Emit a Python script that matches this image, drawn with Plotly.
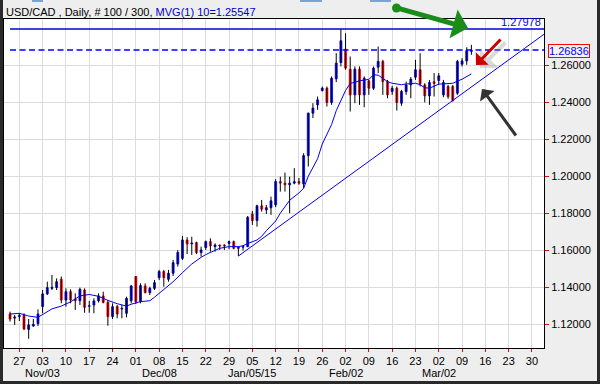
import plotly.graph_objects as go
import pandas as pd

# ---------------- data ----------------
dates = pd.bdate_range("2014-10-23", "2015-03-11")  # 100 daily bars

open_ = [1.1254, 1.1232, 1.1240, 1.1247, 1.1171, 1.1189, 1.1202, 1.1294, 1.1363, 1.1393,
         1.1397, 1.1442, 1.1330, 1.1375, 1.1335, 1.1326, 1.1384, 1.1296, 1.1303, 1.1326,
         1.1352, 1.1317, 1.1240, 1.1294, 1.1281, 1.1258, 1.1326, 1.1457, 1.1321, 1.1406,
         1.1370, 1.1393, 1.1451, 1.1484, 1.1442, 1.1475, 1.1525, 1.1556, 1.1655, 1.1634,
         1.1641, 1.1587, 1.1614, 1.1646, 1.1619, 1.1628, 1.1628, 1.1637, 1.1646, 1.1610,
         1.1616, 1.1619, 1.1796, 1.1760, 1.1840, 1.1818, 1.1830, 1.1845, 1.1971, 1.1963,
         1.1954, 1.1963, 1.1971, 1.1959, 1.2112, 1.2342, 1.2387, 1.2465, 1.2477, 1.2400,
         1.2528, 1.2616, 1.2689, 1.2580, 1.2441, 1.2580, 1.2441, 1.2517, 1.2477, 1.2591,
         1.2622, 1.2513, 1.2459, 1.2477, 1.2396, 1.2459, 1.2495, 1.2537, 1.2577, 1.2495,
         1.2436, 1.2512, 1.2519, 1.2441, 1.2486, 1.2486, 1.2450, 1.2607, 1.2625, 1.2677]
high = [1.1267, 1.1249, 1.1258, 1.1258, 1.1227, 1.1227, 1.1279, 1.1384, 1.1429, 1.1466,
        1.1447, 1.1457, 1.1393, 1.1388, 1.1366, 1.1397, 1.1393, 1.1325, 1.1339, 1.1366,
        1.1375, 1.1330, 1.1312, 1.1303, 1.1303, 1.1348, 1.1411, 1.1460, 1.1420, 1.1420,
        1.1402, 1.1438, 1.1493, 1.1493, 1.1493, 1.1547, 1.1601, 1.1677, 1.1670, 1.1673,
        1.1646, 1.1619, 1.1652, 1.1664, 1.1637, 1.1630, 1.1631, 1.1652, 1.1652, 1.1619,
        1.1623, 1.1785, 1.1812, 1.1846, 1.1872, 1.1845, 1.1890, 1.1984, 1.1998, 1.2020,
        1.1998, 1.2044, 1.1990, 1.2125, 1.2345, 1.2396, 1.2432, 1.2486, 1.2486, 1.2541,
        1.2667, 1.27978, 1.2775, 1.2649, 1.2595, 1.2595, 1.2541, 1.2522, 1.2595, 1.2703,
        1.2631, 1.2522, 1.2490, 1.2486, 1.2468, 1.2513, 1.2537, 1.2631, 1.2667, 1.2504,
        1.2522, 1.2559, 1.2559, 1.2522, 1.2495, 1.2495, 1.2631, 1.2640, 1.2699, 1.2712]
low = [1.1213, 1.1195, 1.1216, 1.1167, 1.1120, 1.1185, 1.1189, 1.1258, 1.1357, 1.1384,
       1.1384, 1.1312, 1.1294, 1.1312, 1.1276, 1.1303, 1.1261, 1.1261, 1.1258, 1.1316,
       1.1312, 1.1191, 1.1227, 1.1231, 1.1231, 1.1236, 1.1312, 1.1308, 1.1312, 1.1366,
       1.1357, 1.1384, 1.1438, 1.1402, 1.1429, 1.1460, 1.1511, 1.1547, 1.1579, 1.1574,
       1.1579, 1.1565, 1.1601, 1.1592, 1.1592, 1.1601, 1.1601, 1.1605, 1.1605, 1.1568,
       1.1598, 1.1616, 1.1737, 1.1727, 1.1809, 1.1796, 1.1791, 1.1833, 1.1917, 1.1917,
       1.1800, 1.1957, 1.1954, 1.1935, 1.2053, 1.2315, 1.2360, 1.2459, 1.2378, 1.2387,
       1.2510, 1.2595, 1.2577, 1.2351, 1.2396, 1.2387, 1.2374, 1.2441, 1.2468, 1.2559,
       1.2441, 1.2423, 1.2441, 1.2356, 1.2382, 1.2441, 1.2423, 1.2522, 1.2486, 1.2400,
       1.2387, 1.2432, 1.2495, 1.2428, 1.2420, 1.2405, 1.2441, 1.2595, 1.2604, 1.2658]
close = [1.1227, 1.1238, 1.1247, 1.1173, 1.1195, 1.1198, 1.1254, 1.1363, 1.1397, 1.1399,
         1.1429, 1.1330, 1.1375, 1.1330, 1.1326, 1.1388, 1.1290, 1.1299, 1.1325, 1.1352,
         1.1317, 1.1240, 1.1294, 1.1254, 1.1285, 1.1339, 1.1406, 1.1321, 1.1408, 1.1370,
         1.1393, 1.1424, 1.1484, 1.1451, 1.1475, 1.1532, 1.1587, 1.1655, 1.1634, 1.1639,
         1.1587, 1.1601, 1.1646, 1.1623, 1.1628, 1.1622, 1.1622, 1.1646, 1.1610, 1.1616,
         1.1620, 1.1778, 1.1760, 1.1840, 1.1822, 1.1830, 1.1867, 1.1971, 1.1963, 1.1954,
         1.1963, 1.1971, 1.1963, 1.2112, 1.2342, 1.2369, 1.2414, 1.2477, 1.2400, 1.2531,
         1.2613, 1.2734, 1.2586, 1.2441, 1.2580, 1.2441, 1.2531, 1.2477, 1.2586, 1.2622,
         1.2513, 1.2441, 1.2477, 1.2400, 1.2459, 1.2495, 1.2526, 1.2577, 1.2501, 1.2436,
         1.2508, 1.2503, 1.2544, 1.2508, 1.2432, 1.2410, 1.2622, 1.2625, 1.2681, 1.26836]

# 10-period moving average at selected bars
ma_dates = ["2014-10-23", "2014-10-27", "2014-10-29", "2014-10-31", "2014-11-05", "2014-11-07",
            "2014-11-11", "2014-11-13", "2014-11-17", "2014-11-19", "2014-11-21", "2014-11-25",
            "2014-11-27", "2014-11-28", "2014-12-02", "2014-12-04", "2014-12-05", "2014-12-09",
            "2014-12-11", "2014-12-15", "2014-12-17", "2014-12-19", "2014-12-22", "2014-12-24",
            "2014-12-25", "2014-12-29", "2014-12-31", "2015-01-01", "2015-01-02", "2015-01-06",
            "2015-01-07", "2015-01-08", "2015-01-12", "2015-01-13", "2015-01-15", "2015-01-19",
            "2015-01-20", "2015-01-21", "2015-01-23", "2015-01-26", "2015-01-28", "2015-01-29",
            "2015-01-30", "2015-02-02", "2015-02-03", "2015-02-05", "2015-02-09", "2015-02-10",
            "2015-02-11", "2015-02-13", "2015-02-16", "2015-02-18", "2015-02-19", "2015-02-23",
            "2015-02-24", "2015-02-25", "2015-02-26", "2015-03-02", "2015-03-05", "2015-03-09",
            "2015-03-11"]
ma_values = [1.1254, 1.1258, 1.1243, 1.1236, 1.1282, 1.1297,
             1.1320, 1.1352, 1.1360, 1.1350, 1.1328, 1.1310,
             1.1297, 1.1307, 1.1321, 1.1326, 1.1345, 1.1385,
             1.1429, 1.1478, 1.1525, 1.1561, 1.1576, 1.1599,
             1.1610, 1.1619, 1.1619, 1.1624, 1.1636, 1.1655,
             1.1675, 1.1705, 1.1758, 1.1800, 1.1870, 1.1910,
             1.1935, 1.2000, 1.2095, 1.2175, 1.2280, 1.2355,
             1.2414, 1.2465, 1.2503, 1.2517, 1.2525, 1.2550,
             1.2548, 1.2513, 1.2504, 1.2496, 1.2500, 1.2504,
             1.2496, 1.2480, 1.2477, 1.2499, 1.2504, 1.2526,
             1.25547]

trend_dates = ["2014-12-31", "2015-04-02"]
trend_values = [1.1568, 1.2777]

high_line = 1.27978
last_line = 1.26836

tick_dates = pd.date_range("2014-10-27", "2015-03-30", freq="7D")
tick_days = ["27", "03", "10", "17", "24", "01", "08", "15", "22", "29", "05", "12",
             "19", "26", "02", "09", "16", "23", "02", "09", "16", "23", "30"]
month_dates = ["2014-11-03", "2014-12-08", "2015-01-05", "2015-02-02", "2015-03-02"]
month_labels = ["Nov/03", "Dec/08", "Jan/05/15", "Feb/02", "Mar/02"]
y_ticks = [1.12, 1.14, 1.16, 1.18, 1.20, 1.22, 1.24, 1.26]

x_start = "2014-10-21 17:00"
x_end = "2015-04-01 14:00"
y_range = [1.1070, 1.2852]

# ---------------- figure ----------------
FONT = "Liberation Sans, Arial, sans-serif"
BLUE = "#0000ff"
RED = "#ff0000"

W, H = 600, 384
ML, MR, MT, MB = 4, 56, 19, 36
PW, PH = W - ML - MR, H - MT - MB


def px(x):
    return (x - ML) / PW


def py(y):
    return (H - MB - y) / PH


fig = go.Figure()

# wicks
wx, wy = [], []
for d, h, l in zip(dates, high, low):
    wx += [d, d, None]
    wy += [l, h, None]
fig.add_trace(go.Scatter(x=wx, y=wy, mode="lines", line=dict(color="black", width=1),
                         hoverinfo="skip"))

# bodies
colors = [BLUE if c >= o else RED for o, c in zip(open_, close)]
fig.add_trace(go.Bar(x=dates, y=[abs(c - o) for o, c in zip(open_, close)],
                     base=[min(o, c) for o, c in zip(open_, close)],
                     width=0.42 * 86400000,
                     marker=dict(color=colors, line=dict(color=colors, width=0.8))))

# moving average
fig.add_trace(go.Scatter(x=ma_dates, y=ma_values, mode="lines",
                         line=dict(color="#0000ee", width=1)))

# trend line
fig.add_trace(go.Scatter(x=trend_dates, y=trend_values, mode="lines",
                         line=dict(color="#0000ee", width=1)))

# high line and last price line
fig.add_trace(go.Scatter(x=[dates[0], x_end], y=[high_line, high_line], mode="lines",
                         line=dict(color="#0000dd", width=1.5)))
fig.add_trace(go.Scatter(x=[dates[0], x_end], y=[last_line, last_line], mode="lines",
                         line=dict(color="#0000ff", width=1.5, dash="6px,3.5px")))

annotations = [
    dict(xref="paper", yref="paper", x=px(4), y=py(12), xanchor="left", yanchor="middle",
         text="USD/CAD , Daily, # 100 / 300,<span style='color:#0000cc'> MVG(1) 10=1.25547</span>",
         showarrow=False, font=dict(family=FONT, size=11, color="black")),
    dict(xref="paper", yref="y", x=1, y=high_line, xanchor="right", yanchor="bottom",
         text=f"{high_line:.5f}", showarrow=False, xshift=-1, yshift=-1,
         font=dict(family=FONT, size=11, color="#0000ff")),
    dict(xref="paper", yref="y", x=px(548), y=last_line, xanchor="left", yanchor="middle",
         text=f"{last_line:.5f}", showarrow=False, bordercolor="red", borderwidth=1,
         borderpad=0, yshift=-1, bgcolor="#f4f4f4",
         font=dict(family=FONT, size=11, color="#0000ff")),
    # green arrow
    dict(xref="paper", yref="paper", x=px(468), y=py(28), ax=397 - 468, ay=8 - 28,
         text="", showarrow=True, arrowhead=1, arrowsize=1, arrowwidth=5,
         arrowcolor="#1a8c1a"),
    # red arrow shadow + arrow
    dict(xref="paper", yref="paper", x=px(480), y=py(68), ax=27, ay=-27,
         text="", showarrow=True, arrowhead=1, arrowsize=1.1, arrowwidth=4,
         arrowcolor="rgba(150,150,150,0.35)"),
    dict(xref="paper", yref="paper", x=px(476), y=py(65), ax=26, ay=-27,
         text="", showarrow=True, arrowhead=1, arrowsize=1, arrowwidth=3,
         arrowcolor="#cc0000"),
    # dark arrow
    dict(xref="paper", yref="paper", x=px(482), y=py(89), ax=35, ay=48,
         text="", showarrow=True, arrowhead=1, arrowsize=1, arrowwidth=3,
         arrowcolor="#333333"),
]
for md, ml in zip(month_dates, month_labels):
    annotations.append(dict(xref="x", yref="paper", x=md, y=py(373), xanchor="center",
                            yanchor="middle", text=ml, showarrow=False,
                            font=dict(family=FONT, size=11, color="black")))

shapes = [
    dict(type="circle", xref="paper", yref="paper", x0=px(392), x1=px(401), y0=py(12.5),
         y1=py(3.5), fillcolor="#1a8c1a", line=dict(width=0)),
    # outer frame
    dict(type="rect", xref="paper", yref="paper", x0=px(0), x1=px(3), y0=py(384), y1=py(0),
         fillcolor="#2a2a2a", line=dict(width=0), layer="below"),
    dict(type="rect", xref="paper", yref="paper", x0=px(597), x1=px(600), y0=py(384), y1=py(0),
         fillcolor="#2a2a2a", line=dict(width=0), layer="below"),
    dict(type="rect", xref="paper", yref="paper", x0=px(0), x1=px(600), y0=py(384), y1=py(381),
         fillcolor="#2a2a2a", line=dict(width=0), layer="below"),
    # small tabs at the top edge
    dict(type="rect", xref="paper", yref="paper", x0=px(32), x1=px(43), y0=py(2), y1=py(0),
         fillcolor="#7aa3d6", line=dict(width=0)),
    dict(type="rect", xref="paper", yref="paper", x0=px(300), x1=px(322), y0=py(2), y1=py(0),
         fillcolor="#7aa3d6", line=dict(width=0)),
    dict(type="rect", xref="paper", yref="paper", x0=px(370), x1=px(391), y0=py(2), y1=py(0),
         fillcolor="#7aa3d6", line=dict(width=0)),
]

fig.update_layout(
    width=W, height=H,
    margin=dict(l=ML, r=MR, t=MT, b=MB, pad=0, autoexpand=False),
    paper_bgcolor="#eeeeee", plot_bgcolor="white",
    showlegend=False,
    font=dict(family=FONT, size=11, color="black"),
    annotations=annotations,
    shapes=shapes,
    xaxis=dict(type="date", range=[x_start, x_end], automargin=False,
               rangebreaks=[dict(bounds=["sat", "mon"])],
               tickvals=list(tick_dates), ticktext=tick_days, tickangle=0,
               ticks="outside", ticklen=3, tickcolor="red", tickwidth=1,
               showgrid=True, gridcolor="#dcdcdc", gridwidth=1,
               showline=True, linecolor="black", linewidth=1, mirror=True,
               tickfont=dict(family=FONT, size=11, color="black"),
               zeroline=False, fixedrange=True),
    yaxis=dict(side="right", range=y_range, tickvals=y_ticks, automargin=False,
               ticktext=[f"{v:.5f}" for v in y_ticks],
               ticks="outside", ticklen=4, tickcolor="red", tickwidth=1,
               showgrid=True, gridcolor="#dcdcdc", gridwidth=1,
               showline=True, linecolor="black", linewidth=1, mirror=True,
               tickfont=dict(family=FONT, size=11, color="black"),
               zeroline=False, fixedrange=True),
)

fig.write_html("out.html", config={"displayModeBar": False},
               post_script="document.body.style.margin='0';document.body.style.padding='0';"
                           "document.body.style.overflow='hidden';")
